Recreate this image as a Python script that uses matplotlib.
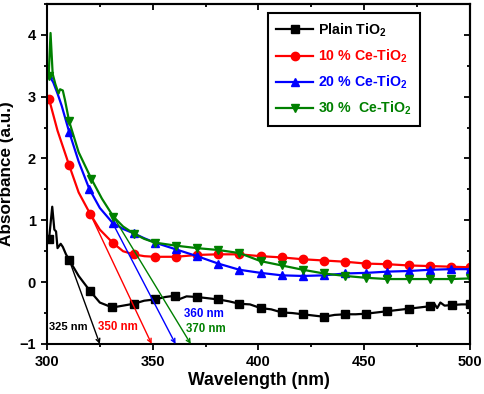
import matplotlib
matplotlib.use("Agg")
import matplotlib.pyplot as plt
from matplotlib.ticker import MultipleLocator

plt.rcParams['font.family'] = ['Liberation Sans', 'DejaVu Sans']
plt.rcParams['font.weight'] = 'bold'
plt.rcParams['mathtext.fontset'] = 'custom'
plt.rcParams['mathtext.rm'] = 'Liberation Sans:bold'
plt.rcParams['mathtext.bf'] = 'Liberation Sans:bold'
plt.rcParams['mathtext.default'] = 'bf'

# ---- data ----
wl_plain = [300, 301, 302.5, 303.5, 304.3, 305, 306.5, 307.5, 309, 310.5, 315, 320.3, 325,
            330.9, 336, 341, 346, 351, 356, 360.5, 363, 366, 370.9, 376, 381, 386, 391, 396,
            401, 406, 411, 416, 421, 426, 431, 436, 441, 446, 451, 456, 461, 466, 471, 476,
            481, 483, 484.5, 486, 488, 491.5, 496, 500]
abs_plain = [0.68, 0.70, 1.22, 0.85, 0.82, 0.55, 0.62, 0.57, 0.45, 0.36, 0.10, -0.14, -0.33,
             -0.41, -0.38, -0.35, -0.30, -0.28, -0.24, -0.22, -0.27, -0.23, -0.24, -0.26, -0.28,
             -0.31, -0.35, -0.36, -0.42, -0.44, -0.49, -0.50, -0.52, -0.54, -0.56, -0.53, -0.52,
             -0.52, -0.51, -0.49, -0.47, -0.45, -0.43, -0.41, -0.39, -0.34, -0.42, -0.33, -0.38,
             -0.37, -0.36, -0.36]

wl_10 = [300.5, 301, 305, 310.5, 315, 320.5, 325, 331, 336, 341, 346, 351, 361, 371, 381, 391,
         401, 411, 421, 431, 441, 451, 461, 471, 481, 491, 500]
abs_10 = [2.95, 2.96, 2.45, 1.89, 1.45, 1.10, 0.85, 0.64, 0.50, 0.45, 0.42, 0.41, 0.41, 0.44,
          0.45, 0.45, 0.42, 0.40, 0.37, 0.35, 0.33, 0.30, 0.29, 0.27, 0.26, 0.25, 0.24]

wl_20 = [300, 300.6, 303, 305, 307, 310.5, 315, 320, 325, 331, 336, 341, 346, 351, 361, 371,
         381, 391, 401, 411, 421, 431, 441, 451, 461, 471, 481, 491, 500]
abs_20 = [3.40, 3.37, 3.23, 3.05, 2.85, 2.43, 1.95, 1.51, 1.20, 0.96, 0.86, 0.79, 0.71, 0.64,
          0.53, 0.42, 0.30, 0.20, 0.15, 0.11, 0.10, 0.11, 0.14, 0.15, 0.17, 0.18, 0.20, 0.21, 0.21]

wl_30 = [300, 300.8, 301.7, 302.7, 304, 305.5, 306.2, 307.5, 308.5, 310.5, 315, 321, 326,
         331.4, 336, 341.3, 346, 351, 361, 371, 381, 391, 401, 411, 421, 431, 441, 451, 461,
         471, 481, 491, 500]
abs_30 = [3.35, 3.33, 4.03, 3.37, 3.20, 3.05, 3.12, 3.10, 2.95, 2.60, 2.10, 1.67, 1.35, 1.06,
          0.90, 0.78, 0.70, 0.64, 0.59, 0.55, 0.52, 0.47, 0.34, 0.27, 0.20, 0.14, 0.10, 0.07,
          0.05, 0.05, 0.05, 0.05, 0.06]

mk_plain = [301, 310.5, 320.3, 330.9, 341, 351, 360.5, 370.9, 381, 391, 401, 411, 421, 431,
            441, 451, 461, 471, 481, 491.5, 500]
mk_10 = [301, 310.5, 320.5, 331, 341, 351, 361, 371, 381, 391, 401, 411, 421, 431, 441, 451,
         461, 471, 481, 491, 500]
mk_20 = [300.6, 310.5, 320, 331, 341, 351, 361, 371, 381, 391, 401, 411, 421, 431, 441, 451,
         461, 471, 481, 491, 500]
mk_30 = [300.8, 310.5, 321, 331.4, 341.3, 351, 361, 371, 381, 391, 401, 411, 421, 431, 441,
         451, 461, 471, 481, 491, 500]

labels = ["Plain TiO$_2$", "10 % Ce-TiO$_2$", "20 % Ce-TiO$_2$", "30 %  Ce-TiO$_2$"]
colors = ["black", "#ff0000", "#0000ff", "#008000"]
markers = ["s", "o", "^", "v"]

# tangent lines (start point on curve -> intercept on x axis at y = -1)
tan_start_x = [310.5, 320.5, 331, 331.4]
tan_start_y = [0.36, 1.10, 0.96, 1.06]
tan_end_x = [325, 349.5, 360.8, 368]
onset_labels = ["325 nm", "350 nm", "360 nm", "370 nm"]

fig = plt.figure(figsize=(4.84, 3.94), dpi=100)
ax = fig.add_axes([0.097, 0.127, 0.874, 0.863])

series = [(wl_plain, abs_plain, mk_plain), (wl_10, abs_10, mk_10),
          (wl_20, abs_20, mk_20), (wl_30, abs_30, mk_30)]
handles = []
for (x, y, mk), c, m, lab in zip(series, colors, markers, labels):
    idx = [i for i, v in enumerate(x) if v in mk]
    h, = ax.plot(x, y, color=c, marker=m, markevery=idx, lw=1.6, ms=6, label=lab)
    handles.append(h)

for sx, sy, ex, c in zip(tan_start_x, tan_start_y, tan_end_x, colors):
    ax.annotate("", xy=(ex, -1), xytext=(sx, sy),
                arrowprops=dict(arrowstyle="->", color=c, lw=1.0,
                                shrinkA=0, shrinkB=0, mutation_scale=7))

ax.text(301, -0.73, onset_labels[0], color=colors[0], fontsize=8, fontweight='bold', va='center')
ax.text(324.1, -0.73, onset_labels[1], color=colors[1], fontsize=8.3, fontweight='bold', va='center')
ax.text(364.8, -0.52, onset_labels[2], color=colors[2], fontsize=8.3, fontweight='bold', va='center')
ax.text(365.7, -0.75, onset_labels[3], color=colors[3], fontsize=8.3, fontweight='bold', va='center')

ax.set_xlim(300, 500)
ax.set_ylim(-1, 4.5)
ax.xaxis.set_major_locator(MultipleLocator(50))
ax.xaxis.set_minor_locator(MultipleLocator(25))
ax.yaxis.set_major_locator(MultipleLocator(1))
ax.yaxis.set_minor_locator(MultipleLocator(0.5))

for s in ax.spines.values():
    s.set_linewidth(1.5)
ax.tick_params(which='both', direction='out', width=1.3, labelsize=10.5)
ax.tick_params(which='major', length=4.5)
ax.tick_params(which='minor', length=2.5)
# mirror ticks on top/right pointing in
axt = ax.secondary_xaxis('top')
axt.xaxis.set_major_locator(MultipleLocator(50))
axt.xaxis.set_minor_locator(MultipleLocator(25))
axt.tick_params(which='both', direction='in', width=1.3, labeltop=False)
axt.tick_params(which='major', length=4.5)
axt.tick_params(which='minor', length=2.5)
axr = ax.secondary_yaxis('right')
axr.yaxis.set_major_locator(MultipleLocator(1))
axr.yaxis.set_minor_locator(MultipleLocator(0.5))
axr.tick_params(which='both', direction='in', width=1.3, labelright=False)
axr.tick_params(which='major', length=4.5)
axr.tick_params(which='minor', length=2.5)
axt.spines['top'].set_linewidth(1.5)
axr.spines['right'].set_linewidth(1.5)

for lbl in ax.get_xticklabels() + ax.get_yticklabels():
    lbl.set_fontweight('bold')

ax.set_xlabel("Wavelength (nm)", fontsize=12.7, fontweight='bold', labelpad=2)
ax.set_ylabel("Absorbance (a.u.)", fontsize=12.3, fontweight='bold', labelpad=4)

leg = ax.legend(handles=handles, loc='upper left', bbox_to_anchor=(0.522, 0.974),
                borderaxespad=0, fancybox=False, framealpha=1, edgecolor='black',
                handlelength=2.6, labelspacing=0.62, borderpad=0.6, handletextpad=0.35,
                prop={'weight': 'bold', 'size': 10.2})
leg.get_frame().set_linewidth(1.5)
for t, c in zip(leg.get_texts(), colors):
    t.set_color(c)

fig.savefig("out.png", dpi=100)
